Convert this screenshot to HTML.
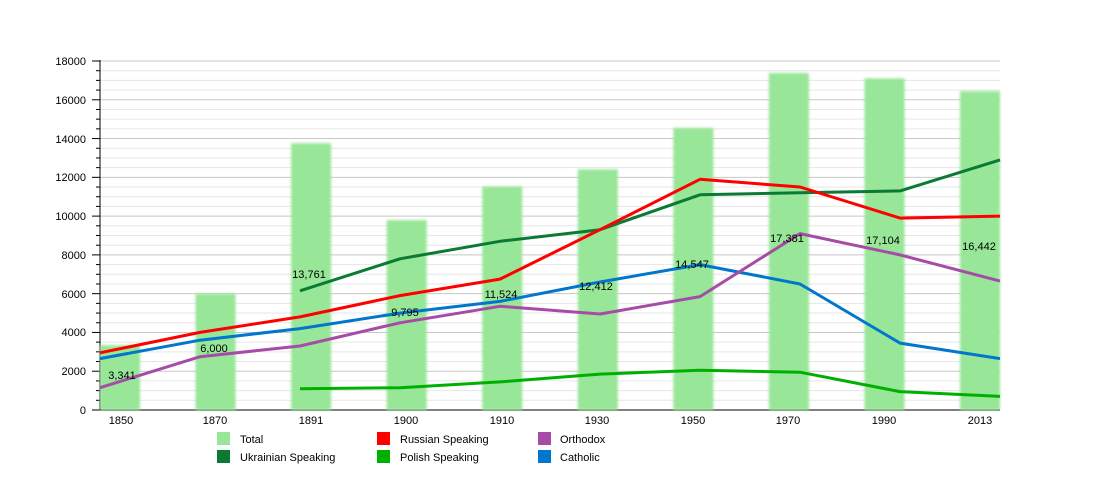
<!DOCTYPE html>
<html><head><meta charset="utf-8"><style>
html,body{margin:0;padding:0;background:#fff;}
svg{display:block;font-family:"Liberation Sans",sans-serif;}
</style></head><body>
<svg id="s" width="1100" height="500" xmlns="http://www.w3.org/2000/svg">
<g id="grid"></g>
<defs><filter id="bl" x="-20%" y="-5%" width="140%" height="110%"><feGaussianBlur stdDeviation="1.2"/></filter></defs>
<g id="bars" filter="url(#bl)"></g>
<g id="lines" fill="none" stroke-width="3" stroke-linejoin="round"></g>
<g font-size="11" fill="#000" text-anchor="end">
<text x="86" y="414">0</text><text x="86" y="375">2000</text><text x="86" y="336">4000</text>
<text x="86" y="298">6000</text><text x="86" y="259">8000</text><text x="86" y="220">10000</text>
<text x="86" y="181">12000</text><text x="86" y="143">14000</text><text x="86" y="104">16000</text>
<text x="86" y="65">18000</text>
</g>
<g font-size="11" fill="#000" text-anchor="middle">
<text x="121" y="424">1850</text><text x="215" y="424">1870</text><text x="311" y="424">1891</text>
<text x="406" y="424">1900</text><text x="502" y="424">1910</text><text x="597" y="424">1930</text>
<text x="693" y="424">1950</text><text x="788" y="424">1970</text><text x="884" y="424">1990</text>
<text x="980" y="424">2013</text>
</g>
<g font-size="11" fill="#000" text-anchor="middle">
<text x="122" y="379">3,341</text><text x="214" y="352">6,000</text><text x="309" y="278">13,761</text>
<text x="405" y="316">9,795</text><text x="501" y="298">11,524</text><text x="596" y="290">12,412</text>
<text x="692" y="268">14,547</text><text x="787" y="242">17,381</text><text x="883" y="244">17,104</text>
<text x="979" y="250">16,442</text>
</g>
<g font-size="11" fill="#000">
<rect x="217" y="432" width="13" height="13" fill="#98e698"/><text x="240" y="443">Total</text>
<rect x="217" y="450" width="13" height="13" fill="#0a7a35"/><text x="240" y="461">Ukrainian Speaking</text>
<rect x="377" y="432" width="13" height="13" fill="#ff0000"/><text x="400" y="443">Russian Speaking</text>
<rect x="377" y="450" width="13" height="13" fill="#00b000"/><text x="400" y="461">Polish Speaking</text>
<rect x="538" y="432" width="13" height="13" fill="#a64ca6"/><text x="560" y="443">Orthodox</text>
<rect x="538" y="450" width="13" height="13" fill="#0077cc"/><text x="560" y="461">Catholic</text>
</g>
</svg>
<script>
var NS="http://www.w3.org/2000/svg";
function y(v){return 410-v*349/18000;}
function el(p,t,a){var e=document.createElementNS(NS,t);for(var k in a)e.setAttribute(k,a[k]);document.getElementById(p).appendChild(e);return e;}
for(var v=0;v<=18000;v+=500){
  var maj=v%2000==0;
  if(v>0)el("grid","line",{x1:100,x2:1000,y1:y(v),y2:y(v),stroke:maj?"#c8c8c8":"#e6e6e6","stroke-width":1});
  el("grid","line",{x1:maj?92:96,x2:100,y1:y(v),y2:y(v),stroke:"#000","stroke-width":1});
}
el("grid","line",{x1:100,x2:100,y1:60,y2:410,stroke:"#000","stroke-width":1});
var tot=[3341,6000,13761,9795,11524,12412,14547,17381,17104,16442];
tot.forEach(function(t,i){var x=100+95.56*i;el("bars","rect",{x:x,y:y(t),width:40,height:410-y(t),fill:"#98e698"});});
el("grid","line",{x1:100,x2:1000,y1:410,y2:410,stroke:"#000","stroke-width":1});
var S=[
["#00b000",[null,null,1100,1150,1450,1850,2050,1950,950,700]],
["#0077cc",[2650,3600,4200,5000,5600,6600,7500,6500,3450,2650]],
["#a64ca6",[1150,2750,3300,4500,5350,4950,5850,9100,8000,6650]],
["#0a7a35",[null,null,6150,7800,8700,9300,11100,11200,11300,12900]],
["#ff0000",[2950,4000,4800,5900,6750,9300,11900,11500,9900,10000]]];
S.forEach(function(s){var pts=[];s[1].forEach(function(v,i){if(v!==null)pts.push((100+100*i)+","+y(v).toFixed(1));});
el("lines","polyline",{points:pts.join(" "),stroke:s[0]});});
</script>
</body></html>
